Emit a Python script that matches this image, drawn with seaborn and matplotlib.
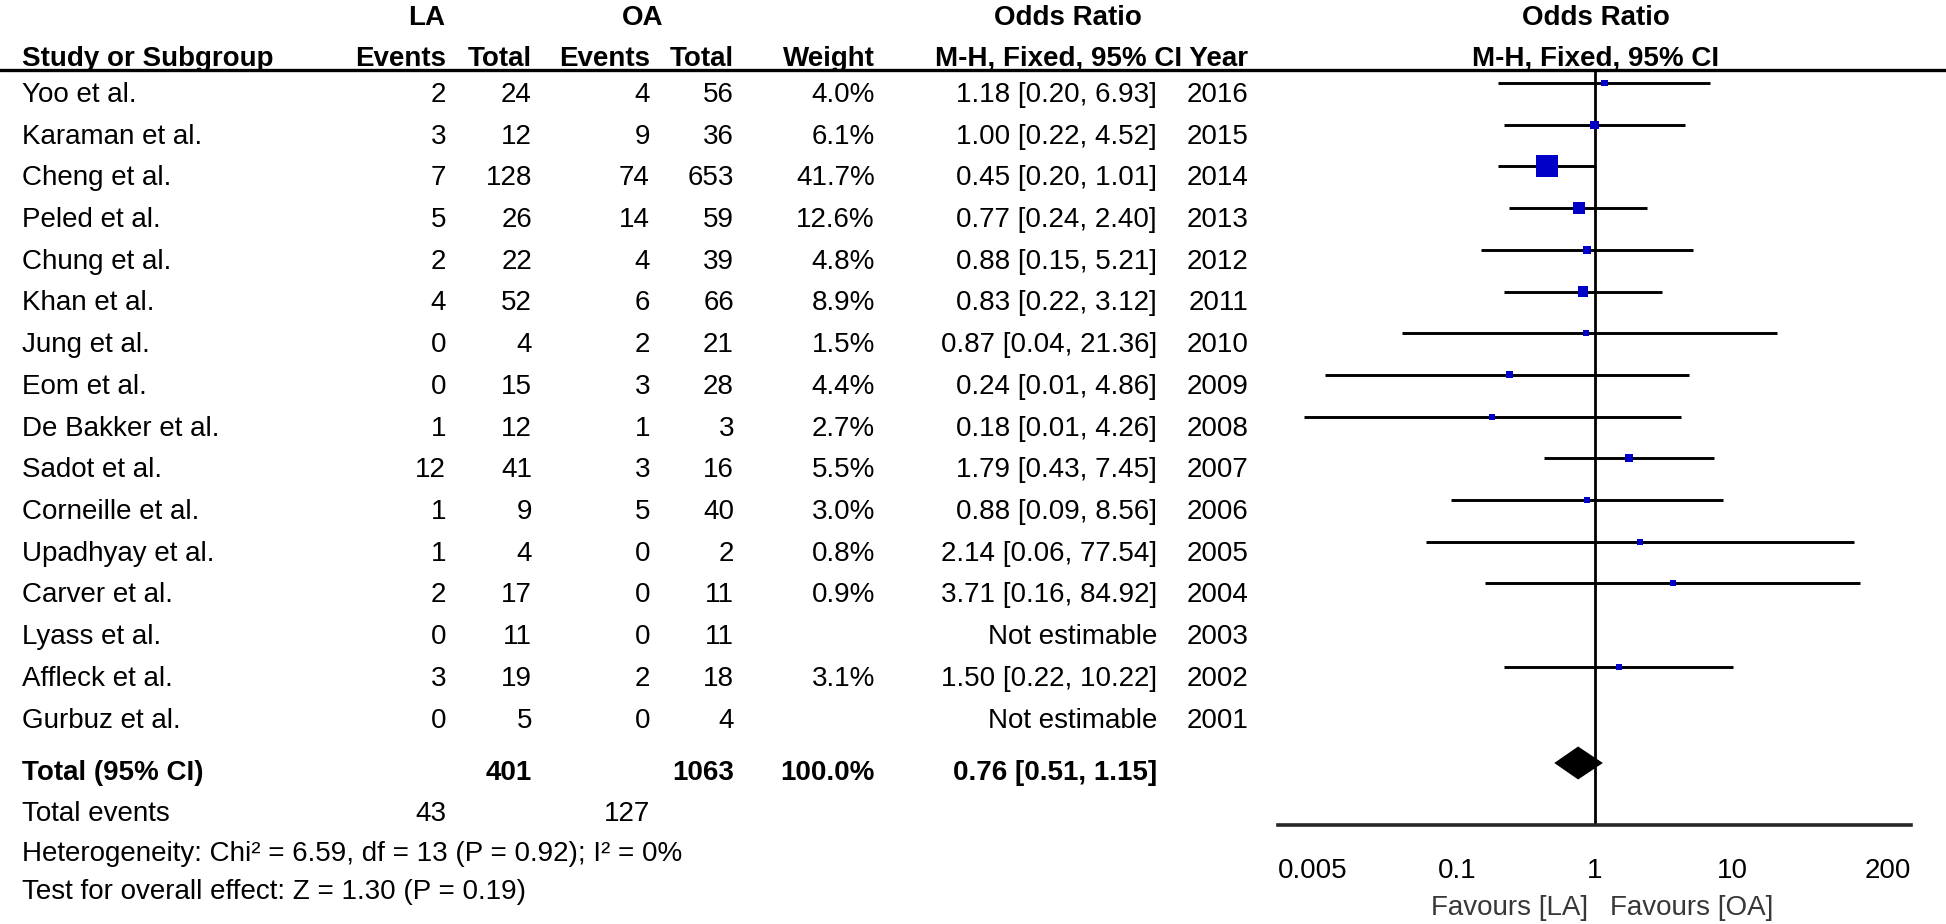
import numpy as np
import pandas as pd
import matplotlib.pyplot as plt
import matplotlib.transforms as mtransforms
from matplotlib.lines import Line2D
from matplotlib.ticker import FixedLocator, NullLocator
import seaborn as sns

sns.set_style("white")
plt.rcParams['font.family'] = ['Liberation Sans', 'DejaVu Sans']
FS = 20

# data
studies = ['Yoo et al.', 'Karaman et al.', 'Cheng et al.', 'Peled et al.', 'Chung et al.',
           'Khan et al.', 'Jung et al.', 'Eom et al.', 'De Bakker et al.', 'Sadot et al.',
           'Corneille et al.', 'Upadhyay et al.', 'Carver et al.', 'Lyass et al.',
           'Affleck et al.', 'Gurbuz et al.']
la_events = [2, 3, 7, 5, 2, 4, 0, 0, 1, 12, 1, 1, 2, 0, 3, 0]
la_total = [24, 12, 128, 26, 22, 52, 4, 15, 12, 41, 9, 4, 17, 11, 19, 5]
oa_events = [4, 9, 74, 14, 4, 6, 2, 3, 1, 3, 5, 0, 0, 0, 2, 0]
oa_total = [56, 36, 653, 59, 39, 66, 21, 28, 3, 16, 40, 2, 11, 11, 18, 4]
weight = [4.0, 6.1, 41.7, 12.6, 4.8, 8.9, 1.5, 4.4, 2.7, 5.5, 3.0, 0.8, 0.9, np.nan, 3.1, np.nan]
or_est = [1.18, 1.00, 0.45, 0.77, 0.88, 0.83, 0.87, 0.24, 0.18, 1.79, 0.88, 2.14, 3.71, np.nan, 1.50, np.nan]
ci_low = [0.20, 0.22, 0.20, 0.24, 0.15, 0.22, 0.04, 0.011, 0.0077, 0.43, 0.09, 0.06, 0.16, np.nan, 0.22, np.nan]
ci_high = [6.93, 4.52, 1.01, 2.40, 5.21, 3.12, 21.36, 4.86, 4.26, 7.45, 8.56, 77.54, 84.92, np.nan, 10.22, np.nan]
years = [2016, 2015, 2014, 2013, 2012, 2011, 2010, 2009, 2008, 2007, 2006, 2005, 2004, 2003, 2002, 2001]

total_or = 0.76
total_ci = [0.51, 1.15]
tick_values = [0.005, 0.1, 1, 10, 200]
tick_labels = ['0.005', '0.1', '1', '10', '200']

df = pd.DataFrame({'study': studies, 'weight': weight, 'or': or_est,
                   'lo': ci_low, 'hi': ci_high, 'year': years})
df['row'] = np.arange(len(df))
est = df.dropna(subset=['or']).copy()
# box side grows with sqrt(weight), with a small minimum (pixels -> pt^2)
est['area'] = (np.maximum(3.4 * np.sqrt(est['weight']), 6.0) * 0.72) ** 2

# layout (pixels of the 1946x924 canvas)
W, H = 1946, 924
ROW0, STEP = 83, 41.7
def px_row(y):
    return (y - ROW0) / STEP

txt_off = 19 / STEP  # text baseline sits a bit below the CI line
total_row = px_row(763)

fig = plt.figure(figsize=(W / 100, H / 100), dpi=100)
ax = fig.add_axes([1278 / W, 1 - 825 / H, (1911 - 1278) / W, (825 - 70) / H])
ax.set_xscale('log')
ax.set_xlim(0.005, 200)
ax.set_ylim(px_row(825), px_row(70))

ax.axvline(1, color='black', lw=2.0, zorder=1)
ax.hlines(est['row'], est['lo'], est['hi'], color='black', lw=2.1, zorder=2)
amin, amax = est['area'].min(), est['area'].max()
sns.scatterplot(data=est, x='or', y='row', size='area', sizes=(amin, amax),
                size_norm=(amin, amax), marker='s', color='#0000C8', linewidth=0,
                legend=False, ax=ax, zorder=3)

# pooled diamond
dh = 16.5 / STEP
ax.fill([total_ci[0], total_or, total_ci[1], total_or],
        [total_row, total_row - dh, total_row, total_row + dh],
        color='black', lw=0, zorder=3)

for s in ['top', 'left', 'right']:
    ax.spines[s].set_visible(False)
ax.spines['bottom'].set_linewidth(2.6)
ax.set_yticks([])
ax.set_xlabel('')
ax.set_ylabel('')
ax.xaxis.set_major_locator(FixedLocator(tick_values))
ax.xaxis.set_minor_locator(NullLocator())
ax.set_xticklabels(tick_labels)
ax.tick_params(axis='x', direction='inout', length=19, width=2.0, labelsize=FS,
               pad=14, colors='black')
tls = ax.get_xticklabels()
tls[0].set_ha('left')
tls[-1].set_ha('right')

# header rule across the whole figure
fig.add_artist(Line2D([0, 1], [1 - 70 / H, 1 - 70 / H], color='black', lw=2.4,
                      transform=fig.transFigure))

tr = mtransforms.blended_transform_factory(fig.transFigure, ax.transData)

def put(xpx, row, s, ha='right', bold=False, color='black'):
    ax.text(xpx / W, row, s, transform=tr, ha=ha, va='baseline', fontsize=FS,
            fontweight='bold' if bold else 'normal', color=color, clip_on=False)

X_NAME, X_LAE, X_LAT, X_OAE, X_OAT = 22, 446, 532, 650, 734
X_W, X_CI, X_YR = 875, 1157, 1248

# headers
h1 = px_row(25)
h2 = px_row(66)
put(427, h1, 'LA', ha='center', bold=True)
put(643, h1, 'OA', ha='center', bold=True)
put(1068, h1, 'Odds Ratio', ha='center', bold=True)
put(1596, h1, 'Odds Ratio', ha='center', bold=True)
put(X_NAME, h2, 'Study or Subgroup', ha='left', bold=True)
put(X_LAE, h2, 'Events', bold=True)
put(X_LAT, h2, 'Total', bold=True)
put(X_OAE, h2, 'Events', bold=True)
put(X_OAT, h2, 'Total', bold=True)
put(X_W, h2, 'Weight', bold=True)
put(X_YR, h2, 'M-H, Fixed, 95% CI Year', bold=True)
put(1596, h2, 'M-H, Fixed, 95% CI', ha='center', bold=True)

# study rows
for _, r in df.iterrows():
    y = r['row'] + txt_off
    i = int(r['row'])
    put(X_NAME, y, r['study'], ha='left')
    put(X_LAE, y, str(la_events[i]))
    put(X_LAT, y, str(la_total[i]))
    put(X_OAE, y, str(oa_events[i]))
    put(X_OAT, y, str(oa_total[i]))
    if np.isnan(r['or']):
        put(X_CI, y, 'Not estimable')
    else:
        put(X_W, y, f"{r['weight']:.1f}%")
        put(X_CI, y, f"{r['or']:.2f} [{r['lo']:.2f}, {r['hi']:.2f}]")
    put(X_YR, y, str(r['year']))

# totals
y = px_row(780)
put(X_NAME, y, 'Total (95% CI)', ha='left', bold=True)
put(X_LAT, y, str(sum(la_total)), bold=True)
put(X_OAT, y, str(sum(oa_total)), bold=True)
put(X_W, y, f"{np.nansum(weight):.1f}%", bold=True)
put(X_CI, y, f"{total_or:.2f} [{total_ci[0]:.2f}, {total_ci[1]:.2f}]", bold=True)
y = px_row(821)
put(X_NAME, y, 'Total events', ha='left')
put(X_LAE, y, str(sum(la_events)))
put(X_OAE, y, str(sum(oa_events)))
put(X_NAME, px_row(861), 'Heterogeneity: Chi² = 6.59, df = 13 (P = 0.92); I² = 0%', ha='left')
put(X_NAME, px_row(899), 'Test for overall effect: Z = 1.30 (P = 0.19)', ha='left')

# favours labels under the axis
fav_y = 1 - 908 / H
fig.text(1588 / W, fav_y, 'Favours [LA]', ha='right', va='center', fontsize=FS, color='#383838')
fig.text(1610 / W, fav_y, 'Favours [OA]', ha='left', va='center', fontsize=FS, color='#383838')

fig.savefig('out.png', dpi=100, facecolor='white')
